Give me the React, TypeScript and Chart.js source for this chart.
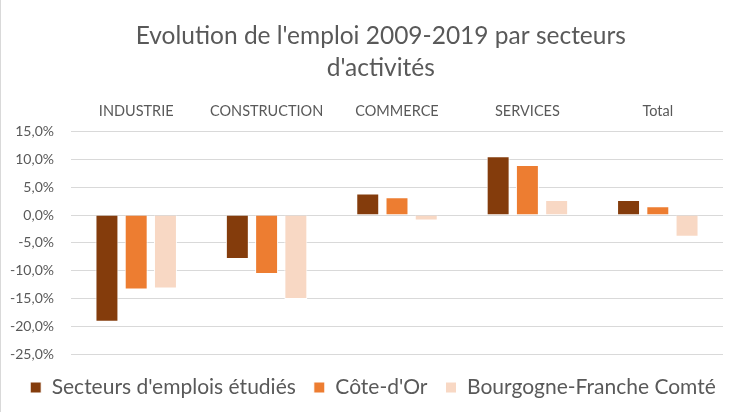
import React, { useEffect, useRef } from "react";
import { Chart, registerables } from "chart.js";

Chart.register(...registerables);

const categories = ["INDUSTRIE", "CONSTRUCTION", "COMMERCE", "SERVICES", "Total"];
const secteursEtudies = [-19.2, -7.9, 3.9, 10.6, 2.7];
const coteDOr = [-13.4, -10.6, 3.2, 9.0, 1.6];
const bourgogne = [-13.2, -15.1, -1.0, 2.7, -3.9];
const seriesNames = ["Secteurs d'emplois étudiés", "Côte-d'Or", "Bourgogne-Franche Comté"];
const titleLines = ["      Evolution de l'emploi 2009-2019 par secteurs", "      d'activités"];

const FONT = "Lato, 'Open Sans', sans-serif";
const GREY = "#595959";

const legendShift = {
  id: "legendShift",
  afterLayout(chart: any) {
    const l = chart.legend;
    if (l) {
      l.left += 11;
      l.right += 11;
    }
  },
};

export default function App() {
  const ref = useRef<HTMLCanvasElement | null>(null);
  useEffect(() => {
    document.body.style.margin = "0";
    const ctx = ref.current!;
    const common = { borderColor: "#ffffff", borderWidth: 1, categoryPercentage: 0.673, barPercentage: 0.785 };
    const chart = new Chart(ctx, {
      type: "bar",
      data: {
        labels: categories,
        datasets: [
          { label: seriesNames[0], data: secteursEtudies, backgroundColor: "#843c0c", ...common },
          { label: seriesNames[1], data: coteDOr, backgroundColor: "#ed7d31", ...common },
          { label: seriesNames[2], data: bourgogne, backgroundColor: "#f8d8c4", ...common },
        ],
      },
      plugins: [legendShift],
      options: {
        animation: false,
        responsive: false,
        layout: { padding: { left: 0, right: 19, top: 0, bottom: 4 } },
        plugins: {
          title: {
            display: true,
            text: titleLines,
            color: GREY,
            font: { family: FONT, size: 24.5, weight: "normal", lineHeight: 1.3 },
            padding: { top: 20, bottom: 0 },
          },
          legend: {
            position: "bottom",
            title: { display: true, text: " ", font: { size: 3, lineHeight: 1 }, padding: { top: 1, bottom: 1 } },
            labels: {
              color: GREY,
              font: { family: FONT, size: 21 },
              boxWidth: 11,
              boxHeight: 11,
              padding: 18,
            },
          },
          tooltip: { enabled: false },
        },
        scales: {
          x: {
            position: "top",
            grid: { display: false, drawTicks: false },
            border: { display: false },
            ticks: { color: GREY, font: { family: FONT, size: 14.5 }, padding: 12 },
            afterFit: (s: any) => { s.height = 48; },
          },
          y: {
            min: -25,
            max: 15,
            grid: { color: "#d9d9d9", lineWidth: 1, drawTicks: false },
            border: { display: false },
            ticks: {
              stepSize: 5,
              color: GREY,
              font: { family: FONT, size: 14 },
              padding: 17,
              callback: (v: any) => Number(v).toFixed(1).replace(".", ",") + "%",
            },
            afterFit: (s: any) => { s.width = 70; },
          },
        },
      },
    });
    return () => chart.destroy();
  }, []);
  return (
    <div style={{ width: 742, height: 412, position: "relative", borderLeft: "1px solid #d9d9d9", boxSizing: "border-box" }}>
      <canvas ref={ref} width={741} height={412} />
    </div>
  );
}
